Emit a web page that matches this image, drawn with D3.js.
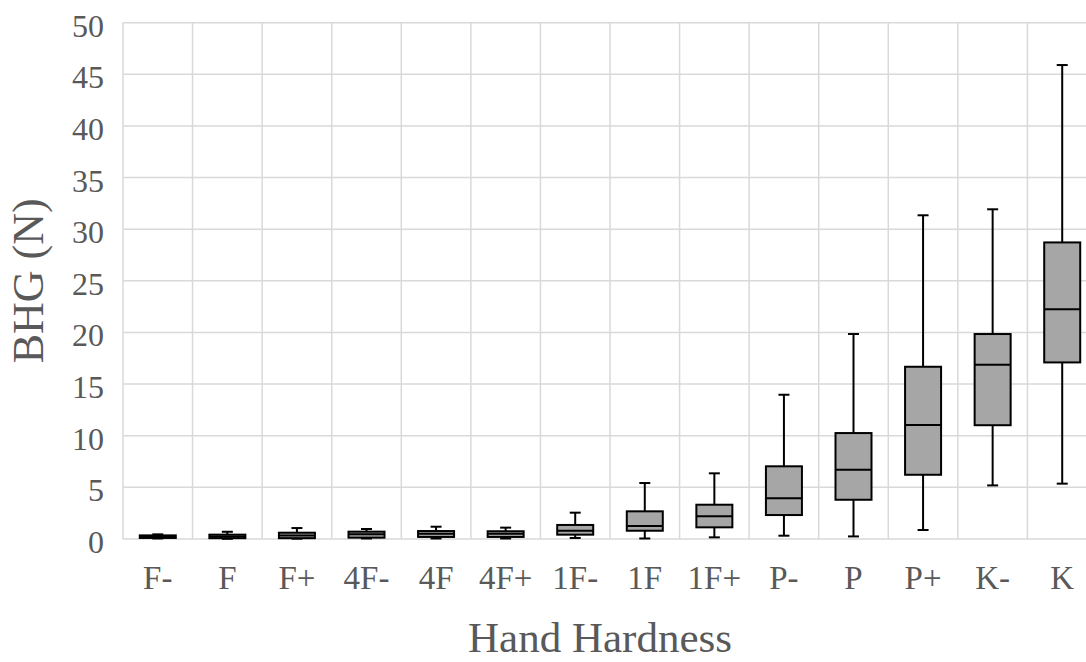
<!DOCTYPE html>
<html>
<head>
<meta charset="utf-8">
<script src="https://cdn.jsdelivr.net/npm/d3@7"></script>
<style>
  body { margin: 0; background: #fff; }
  svg text { font-family: "Liberation Serif", "Times New Roman", serif; fill: #595959; }
</style>
</head>
<body>
<svg id="chart"></svg>
<script>
var categories = ['F-', 'F', 'F+', '4F-', '4F', '4F+', '1F-', '1F', '1F+', 'P-', 'P', 'P+', 'K-', 'K'];
var whiskerLow = [0.05, 0.02, 0.03, 0.05, 0.05, 0.05, 0.1, 0.05, 0.16, 0.32, 0.25, 0.87, 5.19, 5.36];
var q1 = [0.1, 0.08, 0.08, 0.13, 0.2, 0.2, 0.42, 0.8, 1.13, 2.32, 3.8, 6.22, 11.02, 17.1];
var median = [0.2, 0.25, 0.35, 0.45, 0.5, 0.5, 0.8, 1.26, 2.2, 3.94, 6.7, 11.05, 16.88, 22.24];
var q3 = [0.35, 0.42, 0.61, 0.71, 0.77, 0.75, 1.36, 2.68, 3.32, 7.04, 10.26, 16.68, 19.85, 28.72];
var whiskerHigh = [0.45, 0.7, 1.06, 0.97, 1.19, 1.1, 2.55, 5.42, 6.36, 13.97, 19.85, 31.35, 31.93, 45.9];
var yTicks = [0, 5, 10, 15, 20, 25, 30, 35, 40, 45, 50];

var width = 1086;
var height = 662;
var plotLeft = 123, plotTop = 22.7, plotW = 974, plotH = 516.3;

var svg = d3.select('#chart')
    .attr('width', width)
    .attr('height', height);

var x = d3.scaleBand()
    .domain(categories)
    .range([plotLeft, plotLeft + plotW])
    .padding(0);

var y = d3.scaleLinear()
    .domain([0, 50])
    .range([plotTop + plotH, plotTop]);

var boxW = 36, capW = 11;

// gridlines
svg.append('g').selectAll('line')
    .data(yTicks)
    .enter()
    .append('line')
    .attr('x1', plotLeft)
    .attr('x2', plotLeft + plotW)
    .attr('y1', d => y(d))
    .attr('y2', d => y(d))
    .attr('stroke', '#d9d9d9')
    .attr('stroke-width', 1.5);

var edges = categories.map(c => x(c)).concat([plotLeft + plotW]);
svg.append('g').selectAll('line')
    .data(edges)
    .enter()
    .append('line')
    .attr('x1', d => d)
    .attr('x2', d => d)
    .attr('y1', y(50))
    .attr('y2', y(0))
    .attr('stroke', '#d9d9d9')
    .attr('stroke-width', 1.5);

// y tick labels
svg.append('g').selectAll('text')
    .data(yTicks)
    .enter()
    .append('text')
    .attr('x', 104)
    .attr('y', d => y(d) + 14)
    .attr('text-anchor', 'end')
    .style('font-size', '32px')
    .text(d => d);

// x tick labels
svg.append('g').selectAll('text')
    .data(categories)
    .enter()
    .append('text')
    .attr('x', d => x(d) + x.bandwidth() / 2)
    .attr('y', 589)
    .attr('text-anchor', 'middle')
    .style('font-size', '33px')
    .text(d => d);

// boxes
var boxes = svg.append('g').selectAll('g')
    .data(categories)
    .enter()
    .append('g')
    .attr('transform', d => `translate(${x(d) + x.bandwidth() / 2},0)`);

boxes.append('line')
    .attr('x1', 0).attr('x2', 0)
    .attr('y1', (d, i) => y(whiskerHigh[i]))
    .attr('y2', (d, i) => y(whiskerLow[i]))
    .attr('stroke', 'black')
    .attr('stroke-width', 2);

boxes.append('line')
    .attr('x1', -capW / 2).attr('x2', capW / 2)
    .attr('y1', (d, i) => y(whiskerHigh[i]))
    .attr('y2', (d, i) => y(whiskerHigh[i]))
    .attr('stroke', 'black')
    .attr('stroke-width', 2);

boxes.append('line')
    .attr('x1', -capW / 2).attr('x2', capW / 2)
    .attr('y1', (d, i) => y(whiskerLow[i]))
    .attr('y2', (d, i) => y(whiskerLow[i]))
    .attr('stroke', 'black')
    .attr('stroke-width', 2);

boxes.append('rect')
    .attr('x', -boxW / 2)
    .attr('width', boxW)
    .attr('y', (d, i) => y(q3[i]))
    .attr('height', (d, i) => y(q1[i]) - y(q3[i]))
    .attr('fill', '#a6a6a6')
    .attr('stroke', 'black')
    .attr('stroke-width', 2);

boxes.append('line')
    .attr('x1', -boxW / 2).attr('x2', boxW / 2)
    .attr('y1', (d, i) => y(median[i]))
    .attr('y2', (d, i) => y(median[i]))
    .attr('stroke', 'black')
    .attr('stroke-width', 2);

// axis titles
svg.append('text')
    .attr('x', 600)
    .attr('y', 652)
    .attr('text-anchor', 'middle')
    .style('font-size', '43px')
    .text('Hand Hardness');

svg.append('text')
    .attr('transform', `translate(43, ${plotTop + plotH / 2}) rotate(-90)`)
    .attr('text-anchor', 'middle')
    .style('font-size', '44px')
    .text('BHG (N)');
</script>
</body>
</html>
